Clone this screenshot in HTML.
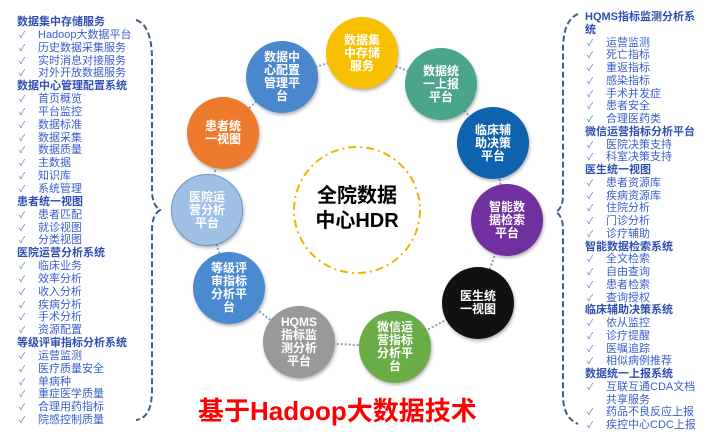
<!DOCTYPE html>
<html><head><meta charset="utf-8"><style>
body{margin:0;width:709px;height:431px;background:#fff;position:relative;overflow:hidden;font-family:"Liberation Sans","Noto Sans CJK SC",sans-serif}
.list{position:absolute;font-size:11px;color:#3a5fcd}
.list div{white-space:nowrap;height:12.85px;line-height:12.85px}
.list.r div{height:12.75px;line-height:12.75px}
.h{font-weight:bold;color:#2f4fb0}
.i{padding-left:21px;position:relative}
.i:before{content:"✓";position:absolute;left:2px;font-size:9px;color:#5a7ac0}
.n:before{content:""}
.c{position:absolute;width:72px;height:72px;border-radius:50%;color:#fff;font-weight:bold;font-size:12px;line-height:13px;display:flex;align-items:center;justify-content:center;text-align:center;box-shadow:1px 2px 3px rgba(0,0,0,.3)}
.c span{width:38px;word-break:break-all}
</style></head><body>
<svg width="709" height="431" style="position:absolute;left:0;top:0">
<path d="M136 20 Q152 25 152 60 L152 190 Q152 205 160 210 Q152 215 152 230 L152 390 Q152 418 136 420" fill="none" stroke="#3d5f85" stroke-width="2" stroke-dasharray="6,3"/>
<path d="M578 14 Q563 20 563 50 L563 195 Q563 208 556 212 Q563 216 563 230 L563 395 Q563 418 578 424" fill="none" stroke="#3d5f85" stroke-width="2" stroke-dasharray="6,3"/>
<polygon points="362,53 441,84 493,143 507,220 478,303 395,347 299,342 229,288 207,210 223,133 282,77" fill="none" stroke="#8aa0c0" stroke-width="2" stroke-dasharray="2,2"/>
<circle cx="357" cy="210" r="63" fill="#fff" stroke="#f0b400" stroke-width="2" stroke-dasharray="8,4,2,4"/>
<text x="357" y="202" text-anchor="middle" font-size="20" font-weight="bold" font-family="Liberation Sans,Noto Sans CJK SC,sans-serif">全院数据</text>
<text x="357" y="227" text-anchor="middle" font-size="20" font-weight="bold" font-family="Liberation Sans,Noto Sans CJK SC,sans-serif">中心HDR</text>
</svg>
<div class="c" style="left:326px;top:17px;background:#f8c000"><span>数据集中存储服务</span></div>
<div class="c" style="left:405px;top:48px;background:#4aa58c"><span>数据统一上报平台</span></div>
<div class="c" style="left:457px;top:107px;background:#0f63ae"><span>临床辅助决策平台</span></div>
<div class="c" style="left:471px;top:184px;background:#7030a0"><span>智能数据检索平台</span></div>
<div class="c" style="left:442px;top:267px;background:#111"><span>医生统一视图</span></div>
<div class="c" style="left:359px;top:311px;background:#6aac46"><span>微信运营指标分析平台</span></div>
<div class="c" style="left:263px;top:306px;background:#999"><span>HQMS 指标监测分析平台</span></div>
<div class="c" style="left:193px;top:252px;background:#4a8ad0"><span>等级评审指标分析平台</span></div>
<div class="c" style="left:171px;top:174px;background:#a0bfe4;border:1px solid #6a9ad0;width:70px;height:70px"><span>医院运营分析平台</span></div>
<div class="c" style="left:187px;top:97px;background:#ee7a2e"><span>患者统一视图</span></div>
<div class="c" style="left:246px;top:41px;background:#4b87cc"><span>数据中心配置管理平台</span></div>
<div style="position:absolute;left:198px;top:391px;font-size:26px;font-weight:bold;color:#f00;white-space:nowrap">基于Hadoop大数据技术</div>
<div class="list" style="left:17px;top:16px">
<div class="h">数据集中存储服务</div><div class="i">Hadoop大数据平台</div><div class="i">历史数据采集服务</div><div class="i">实时消息对接服务</div><div class="i">对外开放数据服务</div>
<div class="h">数据中心管理配置系统</div><div class="i">首页概览</div><div class="i">平台监控</div><div class="i">数据标准</div><div class="i">数据采集</div><div class="i">数据质量</div><div class="i">主数据</div><div class="i">知识库</div><div class="i">系统管理</div>
<div class="h">患者统一视图</div><div class="i">患者匹配</div><div class="i">就诊视图</div><div class="i">分类视图</div>
<div class="h">医院运营分析系统</div><div class="i">临床业务</div><div class="i">效率分析</div><div class="i">收入分析</div><div class="i">疾病分析</div><div class="i">手术分析</div><div class="i">资源配置</div>
<div class="h">等级评审指标分析系统</div><div class="i">运营监测</div><div class="i">医疗质量安全</div><div class="i">单病种</div><div class="i">重症医学质量</div><div class="i">合理用药指标</div><div class="i">院感控制质量</div>
</div>
<div class="list r" style="left:585px;top:11px">
<div class="h">HQMS指标监测分析系</div><div class="h">统</div><div class="i">运营监测</div><div class="i">死亡指标</div><div class="i">重返指标</div><div class="i">感染指标</div><div class="i">手术并发症</div><div class="i">患者安全</div><div class="i">合理医药类</div>
<div class="h">微信运营指标分析平台</div><div class="i">医院决策支持</div><div class="i">科室决策支持</div>
<div class="h">医生统一视图</div><div class="i">患者资源库</div><div class="i">疾病资源库</div><div class="i">住院分析</div><div class="i">门诊分析</div><div class="i">诊疗辅助</div>
<div class="h">智能数据检索系统</div><div class="i">全文检索</div><div class="i">自由查询</div><div class="i">患者检索</div><div class="i">查询授权</div>
<div class="h">临床辅助决策系统</div><div class="i">依从监控</div><div class="i">诊疗提醒</div><div class="i">医嘱追踪</div><div class="i">相似病例推荐</div>
<div class="h">数据统一上报系统</div><div class="i">互联互通CDA文档</div><div class="i n">共享服务</div><div class="i">药品不良反应上报</div><div class="i">疾控中心CDC上报</div>
</div>
</body></html>
